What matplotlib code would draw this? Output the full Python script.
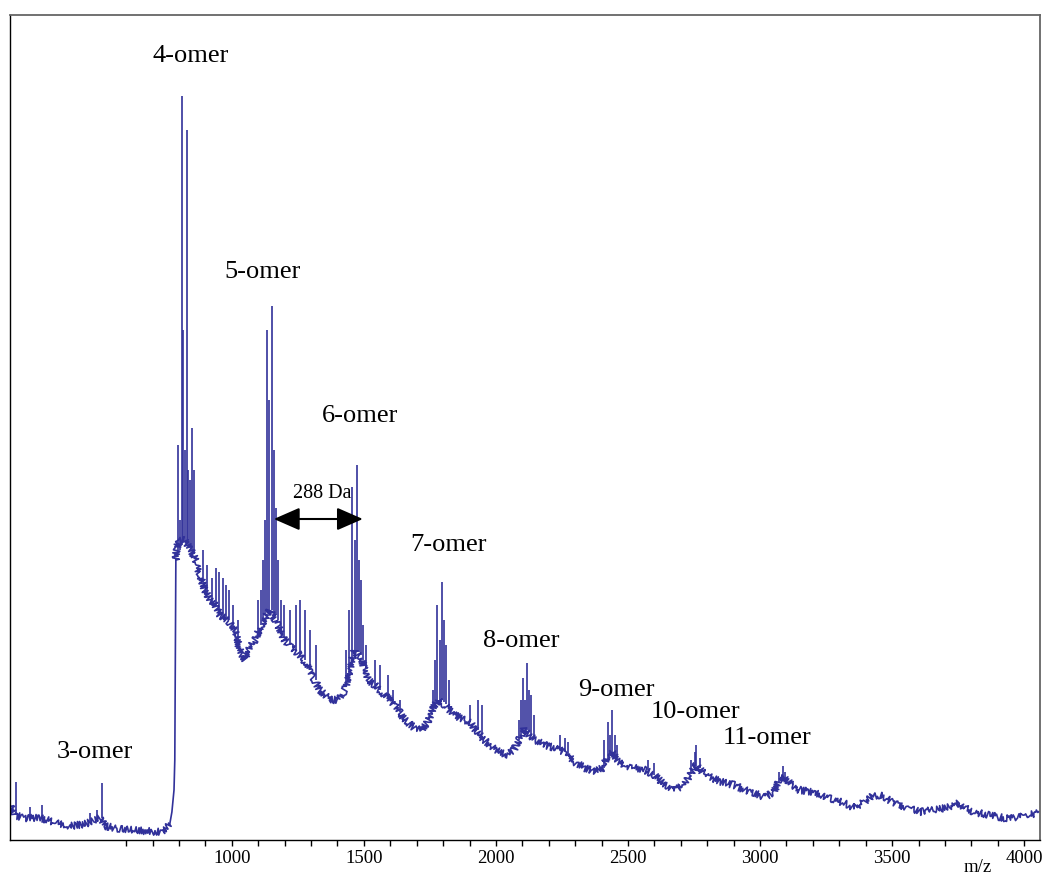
import matplotlib
matplotlib.use("Agg")
import matplotlib.pyplot as plt
import numpy as np

# Continuum (envelope) of the MALDI spectrum: m/z and intensity (a.u.)
base_mz = [160, 175, 217, 274, 330, 387, 444, 482, 501, 520, 557, 614, 671, 728,
           750, 765, 773, 781, 784, 788, 790, 800, 820, 845, 864, 879, 898, 917,
           936, 955, 985, 1011, 1030, 1049, 1068, 1087, 1106, 1125, 1144, 1174,
           1200, 1227, 1257, 1295, 1333, 1371, 1401, 1428, 1446, 1465, 1492, 1515,
           1541, 1579, 1617, 1655, 1692, 1719, 1742, 1760, 1779, 1806, 1832, 1863,
           1900, 1938, 1976, 2014, 2044, 2067, 2086, 2105, 2128, 2150, 2184, 2222,
           2260, 2298, 2336, 2373, 2404, 2423, 2440, 2460, 2487, 2525, 2563, 2600,
           2638, 2676, 2714, 2740, 2759, 2782, 2816, 2854, 2903, 2941, 2979, 3017,
           3054, 3073, 3085, 3119, 3149, 3206, 3263, 3319, 3357, 3395, 3421, 3452,
           3490, 3527, 3565, 3603, 3660, 3717, 3754, 3773, 3811, 3868, 3925, 3981,
           4019, 4057]
base_int = [35, 25, 22, 22, 18, 14, 16, 20, 22, 14, 12, 10, 9, 8,
            10, 16, 28, 50, 80, 280, 290, 300, 300, 290, 280, 265, 250, 240,
            235, 225, 220, 210, 190, 180, 192, 200, 212, 222, 230, 215,
            200, 192, 185, 170, 150, 140, 140, 150, 170, 190, 180, 160,
            155, 145, 135, 120, 112, 110, 118, 130, 140, 135, 128, 122,
            118, 105, 95, 88, 85, 90, 100, 110, 105, 100, 95, 92,
            88, 78, 72, 68, 72, 85, 88, 80, 75, 72, 70, 65,
            55, 50, 55, 68, 75, 68, 62, 58, 55, 50, 47, 43,
            48, 60, 65, 55, 50, 48, 42, 37, 32, 38, 44, 45,
            40, 35, 32, 28, 30, 33, 37, 32, 28, 25, 22, 23,
            25, 27]

# Onset of the oligomer signal (steep edge of the continuum)
onset_start_mz, onset_end_mz = 765, 788

# Resolved ion peaks: position, apex and foot intensity
peak_mz = [183, 236, 281, 463, 489, 508,
           798, 803, 811, 816, 822, 829, 835, 843, 849, 856,
           890, 905, 924, 939, 951, 966, 977, 989, 1004, 1023,
           1098, 1110, 1117, 1125, 1132, 1140, 1151, 1159, 1166, 1174, 1185, 1197,
           1219, 1242, 1257, 1276, 1295, 1318,
           1431, 1443, 1454, 1465, 1473, 1481, 1488, 1496, 1507,
           1541, 1560, 1590, 1609, 1636,
           1760, 1768, 1776, 1787, 1795, 1802, 1810, 1821,
           1900, 1931, 1946,
           2086, 2093, 2101, 2109, 2118, 2124, 2131, 2143,
           2241, 2260, 2271,
           2411, 2423, 2430, 2440, 2449, 2460,
           2574, 2600,
           2740, 2752, 2759, 2771,
           3073, 3085, 3096]
peak_top = [58, 33, 35, 27, 30, 57,
            395, 320, 744, 510, 390, 710, 370, 360, 412, 370,
            290, 275, 262, 272, 268, 262, 255, 250, 235, 220,
            240, 250, 280, 320, 510, 440, 534, 390, 332, 280, 240, 235,
            230, 235, 240, 230, 210, 195,
            190, 230, 353, 300, 375, 280, 260, 215, 195,
            180, 175, 165, 150, 140,
            150, 180, 235, 200, 258, 220, 195, 160,
            135, 140, 135,
            120, 140, 162, 140, 177, 150, 145, 125,
            105, 102, 98,
            100, 118, 105, 130, 105, 95,
            80, 77,
            80, 88, 95, 82,
            68, 74, 68]
peak_foot = [25, 22, 22, 18, 21, 22,
             290, 290, 295, 298, 298, 298, 296, 292, 290, 286,
             258, 245, 238, 234, 228, 223, 222, 220, 212, 195,
             205, 215, 220, 225, 228, 230, 230, 228, 225, 220, 210, 202,
             195, 190, 185, 180, 170, 160,
             155, 165, 175, 185, 190, 188, 185, 180, 172,
             155, 150, 143, 138, 128,
             128, 132, 138, 140, 140, 138, 136, 132,
             118, 110, 106,
             100, 105, 108, 110, 110, 108, 106, 102,
             90, 88, 85,
             72, 80, 84, 86, 84, 80,
             70, 65,
             66, 72, 74, 72,
             58, 62, 58]

# Oligomer annotations
label_text = ["3-omer", "4-omer", "5-omer", "6-omer", "7-omer", "8-omer",
              "9-omer", "10-omer", "11-omer"]
label_mz = [482, 845, 1117, 1484, 1821, 2097, 2457, 2756, 3028]
label_int = [88, 784, 568, 424, 295, 199, 150, 128, 102]

# Repeat-unit spacing between the 5-mer and 6-mer clusters
spacing_text = "288 Da"
spacing_from, spacing_to, spacing_int = 1159, 1496, 321
spacing_label_mz, spacing_label_int = 1341, 347

major_ticks = [1000, 1500, 2000, 2500, 3000, 3500, 4000]
minor_ticks = list(range(600, 4001, 100))

plt.rcParams['font.family'] = ['Liberation Serif', 'DejaVu Serif']
color = '#31319a'

fig = plt.figure(figsize=(10.46, 8.77), dpi=100)
ax = fig.add_axes([10 / 1046, 37 / 877, 1030 / 1046, 825 / 877])

mz = np.asarray(base_mz)
inten = np.asarray(base_int)
i0 = int(np.where(mz == onset_start_mz)[0][0])
i1 = int(np.where(mz == onset_end_mz)[0][0])

# noisy continuum on both sides of the onset, clean steep edge in between
for sl in (slice(0, i0 + 1), slice(i1, None)):
    seg, = ax.plot(mz[sl], inten[sl], color=color, lw=1.2)
    seg.set_sketch_params(scale=3.6, length=1.5, randomness=2.2)
ax.plot(mz[i0:i1 + 1], inten[i0:i1 + 1], color=color, lw=1.2)

ax.vlines(peak_mz, peak_foot, peak_top, color=color, lw=1.2)

for t, x, y in zip(label_text, label_mz, label_int):
    ax.text(x, y, t, fontsize=19, ha='center', va='center')

ax.annotate('', xy=(spacing_from, spacing_int), xytext=(spacing_to, spacing_int),
            arrowprops=dict(arrowstyle='<|-|>,head_length=0.8,head_width=0.35',
                            color='black', lw=1.5, mutation_scale=20,
                            shrinkA=0, shrinkB=0))
ax.text(spacing_label_mz, spacing_label_int, spacing_text, fontsize=14.5,
        ha='center', va='center')

ax.set_xlim(160, 4060)
ax.set_ylim(0, 825)
ax.set_yticks([])
ax.set_xticks(major_ticks)
ax.set_xticks(minor_ticks, minor=True)
ax.tick_params(axis='x', which='both', direction='out', length=4, width=1,
               labelsize=13.5, pad=3)
for side in ('top', 'right'):
    ax.spines[side].set_color('#666666')
    ax.spines[side].set_linewidth(1.3)
for side in ('left', 'bottom'):
    ax.spines[side].set_color('black')
    ax.spines[side].set_linewidth(1.0)

fig.text(978 / 1046, 1 - 868 / 877, 'm/z', fontsize=13.5, ha='center', va='center')

fig.savefig('out.png', dpi=100)
